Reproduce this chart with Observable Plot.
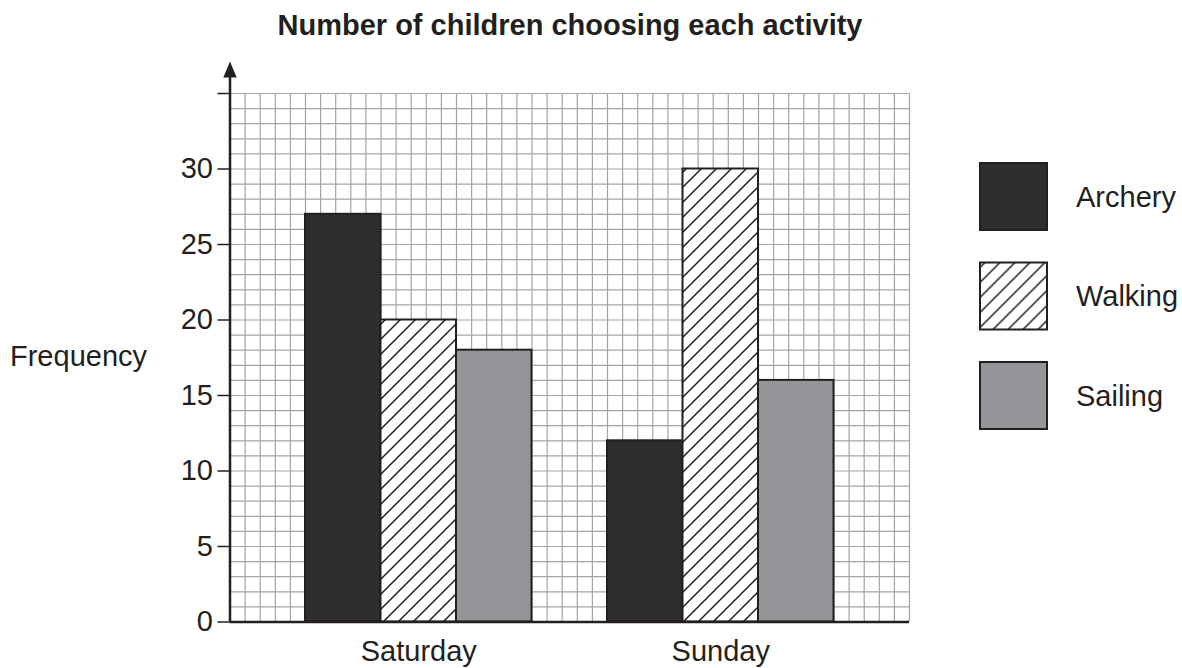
<!DOCTYPE html>
<html>
<head>
<meta charset="utf-8">
<script src="https://cdn.jsdelivr.net/npm/d3@7"></script>
<script src="https://cdn.jsdelivr.net/npm/@observablehq/plot@0.6"></script>
<style>
  html, body { margin: 0; padding: 0; background: #fff; }
  body { font-family: "Liberation Sans", Arial, Helvetica, sans-serif; color: #231f20; }
  #wrap { position: relative; width: 1182px; height: 668px; overflow: hidden; }
  #chart { position: absolute; left: 0; top: 0; }
  .abs { position: absolute; white-space: nowrap; line-height: 29px; font-size: 29px; }
  #title { left: 0; width: 1140px; top: 11px; text-align: center; font-weight: bold; font-size: 29px; }
  #ylabel { left: 10px; top: 342px; }
  #legend { position: absolute; left: 970px; top: 150px; }
</style>
</head>
<body>
<div id="wrap">
  <div id="chart"></div>
  <div id="title" class="abs">Number of children choosing each activity</div>
  <div id="ylabel" class="abs">Frequency</div>
  <svg id="legend" width="212" height="300"></svg>
</div>
<script>
// ---- data ----
const days = ["Saturday", "Sunday"];
const activities = ["Archery", "Walking", "Sailing"];
const archery = [27, 12];
const walking = [20, 30];
const sailing = [18, 16];
const yTicks = [0, 5, 10, 15, 20, 25, 30, 35];
const yTickLabels = ["0", "5", "10", "15", "20", "25", "30", ""];
const fills = ["#2f2d2e", "url(#hatch)", "#939598"];

// ---- layout in grid units ----
const series = [archery, walking, sailing];
const lead = 5, barW = 5, groupW = 20, totalUnits = 45, topUnits = 35;
const rows = days.flatMap((day, i) => activities.map((activity, j) => ({
  day, activity, value: series[j][i],
  x1: lead + i * groupW + j * barW,
  x2: lead + i * groupW + (j + 1) * barW
})));
const dayCenters = days.map((d, i) => lead + i * groupW + barW * activities.length / 2);

const ink = "#231f20";
const gridColor = "#a4a4a4";

const arrowSymbol = {
  draw(context) {
    context.moveTo(0, -10);
    context.lineTo(6.7, 6);
    context.lineTo(-6.7, 6);
    context.closePath();
  }
};

const plot = Plot.plot({
  width: 1182,
  height: 668,
  marginLeft: 229.5,
  marginRight: 273,
  marginTop: 93,
  marginBottom: 46.5,
  x: { domain: [0, totalUnits], axis: null },
  y: { domain: [0, topUnits], axis: null },
  color: { domain: activities, range: fills },
  style: {
    fontFamily: '"Liberation Sans", Arial, Helvetica, sans-serif',
    fontSize: "29px",
    color: ink,
    background: "white",
    overflow: "visible"
  },
  marks: [
    Plot.ruleY(d3.range(0, topUnits + 1), { stroke: gridColor, strokeWidth: 1.2 }),
    Plot.ruleX(d3.range(0, totalUnits + 1), { stroke: gridColor, strokeWidth: 1.2 }),
    Plot.rect(rows, { x1: "x1", x2: "x2", y1: 0, y2: "value", fill: "activity", stroke: ink, strokeWidth: 2 }),
    Plot.axisY({
      ticks: yTicks, tickSize: 12, tickPadding: 5, strokeWidth: 1.5,
      tickFormat: d => yTickLabels[yTicks.indexOf(d)], fontSize: 29, label: null
    }),
    Plot.axisX({
      ticks: dayCenters, tickSize: 0, tickPadding: 18,
      tickFormat: d => days[dayCenters.indexOf(d)], fontSize: 29, label: null
    }),
    Plot.ruleY([0], { stroke: ink, strokeWidth: 2.5 }),
    Plot.ruleX([0], { stroke: ink, strokeWidth: 2.5, insetTop: -18 }),
    Plot.dot([0], { x: d => d, y: () => topUnits, dy: -22, symbol: arrowSymbol, fill: ink, stroke: "none" })
  ]
});

plot.insertAdjacentHTML("afterbegin",
  `<defs><pattern id="hatch" patternUnits="userSpaceOnUse" width="15" height="15">
     <rect width="15" height="15" fill="white"/>
     <path d="M-15,15 L15,-15 M-15,30 L30,-15 M0,30 L30,0" stroke="${ink}" stroke-width="1.5"/>
   </pattern></defs>`);
document.getElementById("chart").appendChild(plot);

// ---- legend ----
const legend = d3.select("#legend");
const item = legend.selectAll("g").data(activities).join("g")
  .attr("transform", (d, i) => `translate(0, ${13 + i * 99.5})`);
item.append("rect")
  .attr("x", 10).attr("y", 0).attr("width", 67).attr("height", 67)
  .attr("fill", (d, i) => fills[i]).attr("stroke", ink).attr("stroke-width", 2);
item.append("text")
  .attr("x", 106).attr("y", 33.5).attr("dy", "0.35em")
  .attr("font-size", 29).attr("fill", ink)
  .attr("font-family", '"Liberation Sans", Arial, Helvetica, sans-serif')
  .text(d => d);
</script>
</body>
</html>
